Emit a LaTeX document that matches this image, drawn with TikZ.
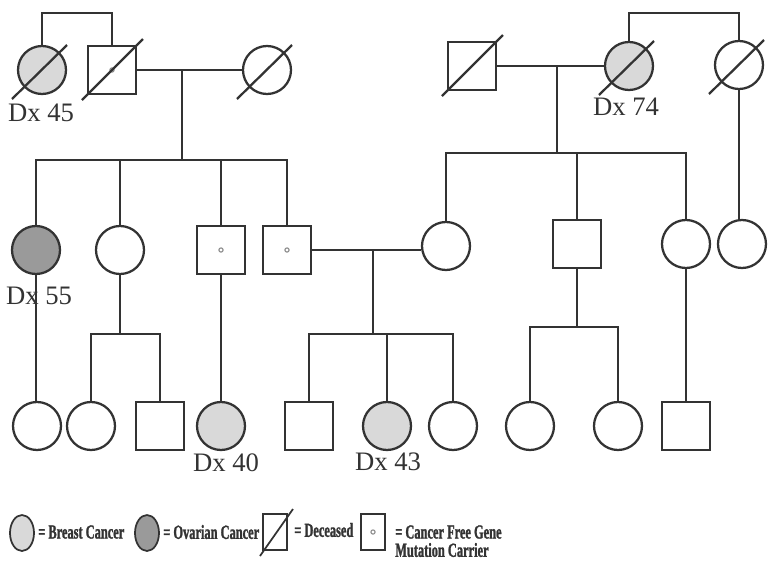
\documentclass[tikz,border=0pt]{standalone}
\usepackage{fontspec}
\setmainfont{Liberation Serif}
\newfontfamily\legfont[FakeStretch=0.62,FakeBold=1.2]{Liberation Serif Bold}
\usetikzlibrary{shapes.geometric,calc}
\definecolor{ink}{HTML}{333333}
\definecolor{breast}{HTML}{D9D9D9}
\definecolor{ovar}{HTML}{9A9A9A}
\newcommand\deadF[1]{\draw[link] ([shift={(-30,29)}]#1.center) -- ([shift={(25,-25)}]#1.center);}
\newcommand\deadM[1]{\draw[link] ([shift={(-30,30)}]#1.center) -- ([shift={(31,-31)}]#1.center);}
\begin{document}
\begin{tikzpicture}[x=0.75pt,y=-0.75pt,
  female/.style={circle,draw=ink,line width=1.7pt,minimum size=36pt,inner sep=0pt,fill=white},
  male/.style={rectangle,draw=ink,line width=1.7pt,minimum size=36pt,inner sep=0pt,fill=white},
  bc/.style={fill=breast},
  oc/.style={fill=ovar},
  link/.style={draw=ink,line width=1.7pt},
  cdot/.style={circle,draw=black!45,line width=0.8pt,minimum size=3.2pt,inner sep=0pt},
  dxlabel/.style={font=\fontsize{20}{22}\selectfont,text=ink,inner sep=0pt},
  legshape/.style={draw=ink,line width=1.3pt,minimum width=18pt,minimum height=27pt,inner sep=0pt},
  legtext/.style={font=\legfont\fontsize{15}{16}\selectfont,text=ink,inner sep=0pt,anchor=west}]
\useasboundingbox (0,0) rectangle (769,561);

% ---------- Generation I ----------
\node[female,bc] (g1a) at (42,70) {};
\node[male]      (g1b) at (112,70) {};
\node[female]    (g1c) at (267,70) {};
\node[male]      (g1d) at (472,66) {};
\node[female,bc] (g1e) at (629,66) {};
\node[female]    (g1f) at (739,65) {};
\node[cdot] (g1bdot) at (g1b.center) {};

% ---------- Generation II ----------
\node[female,oc] (g2a) at (36,250) {};
\node[female]    (g2b) at (120,250) {};
\node[male]      (g2c) at (221,250) {};
\node[male]      (g2d) at (287,250) {};
\node[female]    (g2e) at (446,246) {};
\node[male]      (g2f) at (577,244) {};
\node[female]    (g2g) at (686,244) {};
\node[female]    (g2h) at (742,244) {};
\node[cdot] (g2cdot) at (g2c.center) {};
\node[cdot] (g2ddot) at (g2d.center) {};

% ---------- Generation III ----------
\node[female]    (g3a) at (37,426) {};
\node[female]    (g3b) at (91,426) {};
\node[male]      (g3c) at (160,426) {};
\node[female,bc] (g3d) at (221,426) {};
\node[male]      (g3e) at (309,426) {};
\node[female,bc] (g3f) at (387,426) {};
\node[female]    (g3g) at (453,426) {};
\node[female]    (g3h) at (530,426) {};
\node[female]    (g3i) at (618,426) {};
\node[male]      (g3j) at (686,426) {};

% ---------- connectors ----------
\coordinate (t1) at (77,13);
\draw[link] (g1a.north) |- (t1) -| (g1b.north);
\coordinate (t2) at (684,13);
\draw[link] (g1e.north) |- (t2) -| (g1f.north);

\draw[link] (g1b.east) -- (g1c.west);
\coordinate (m1) at (182,70);
\coordinate (s1) at (182,160);
\draw[link] (m1) -- (s1);
\draw[link] (g2a.north) |- (s1) -| (g2d.north);
\draw[link] (g2b.north) -- (g2b.north |- s1);
\draw[link] (g2c.north) -- (g2c.north |- s1);

\draw[link] (g1d.east) -- (g1e.west);
\coordinate (m3) at (557,66);
\coordinate (s3) at (557,153);
\draw[link] (m3) -- (s3);
\draw[link] (g2e.north) |- (s3) -| (g2g.north);
\draw[link] (g2f.north) -- (g2f.north |- s3);
\draw[link] (g1f.south) -- (g1f.south |- g2h.north);

\draw[link] (g2d.east) -- (g2d.east -| g2e.west);
\coordinate (m2) at (373,250);
\coordinate (s2) at (373,334);
\draw[link] (m2) -- (s2);
\draw[link] (g3e.north) |- (s2) -| (g3g.north);
\draw[link] (g3f.north) -- (g3f.north |- s2);

\draw[link] (g2a.south) -- (g2a.south |- g3a.north);
\coordinate (s4) at (120,334);
\draw[link] (g2b.south) -- (s4);
\draw[link] (g3b.north) |- (s4) -| (g3c.north);
\draw[link] (g2c.south) -- (g2c.south |- g3d.north);

\coordinate (s5) at (577,327);
\draw[link] (g2f.south) -- (s5);
\draw[link] (g3h.north) |- (s5) -| (g3i.north);
\draw[link] (g2g.south) -- (g2g.south |- g3j.north);

% ---------- deceased marks ----------
\deadF{g1a}
\deadM{g1b}
\deadF{g1c}
\deadM{g1d}
\deadF{g1e}
\deadF{g1f}

% ---------- labels ----------
\node[dxlabel] (l45) at (41,113) {Dx 45};
\node[dxlabel] (l74) at (626,107) {Dx 74};
\node[dxlabel] (l55) at (39,296) {Dx 55};
\node[dxlabel] (l40) at (226,463) {Dx 40};
\node[dxlabel] (l43) at (388,462) {Dx 43};

% ---------- legend ----------
\node[legshape,ellipse,fill=breast] (k1) at (22,533) {};
\node[legtext] (k1t) at (38,532) {= Breast Cancer};
\node[legshape,ellipse,fill=ovar] (k2) at (147,533) {};
\node[legtext] (k2t) at (163,532) {= Ovarian Cancer};
\node[legshape,rectangle] (k3) at (275,532) {};
\draw[draw=ink,line width=1.3pt] ([shift={(-15,24)}]k3.center) -- ([shift={(18,-23)}]k3.center);
\node[legtext] (k3t) at (294,530) {= Deceased};
\node[legshape,rectangle] (k4) at (373,532) {};
\node[cdot] (k4dot) at (k4.center) {};
\node[legtext] (k4t) at (395,532) {= Cancer Free Gene};
\node[legtext] (k4u) at (395,550) {Mutation Carrier};
\end{tikzpicture}
\end{document}
